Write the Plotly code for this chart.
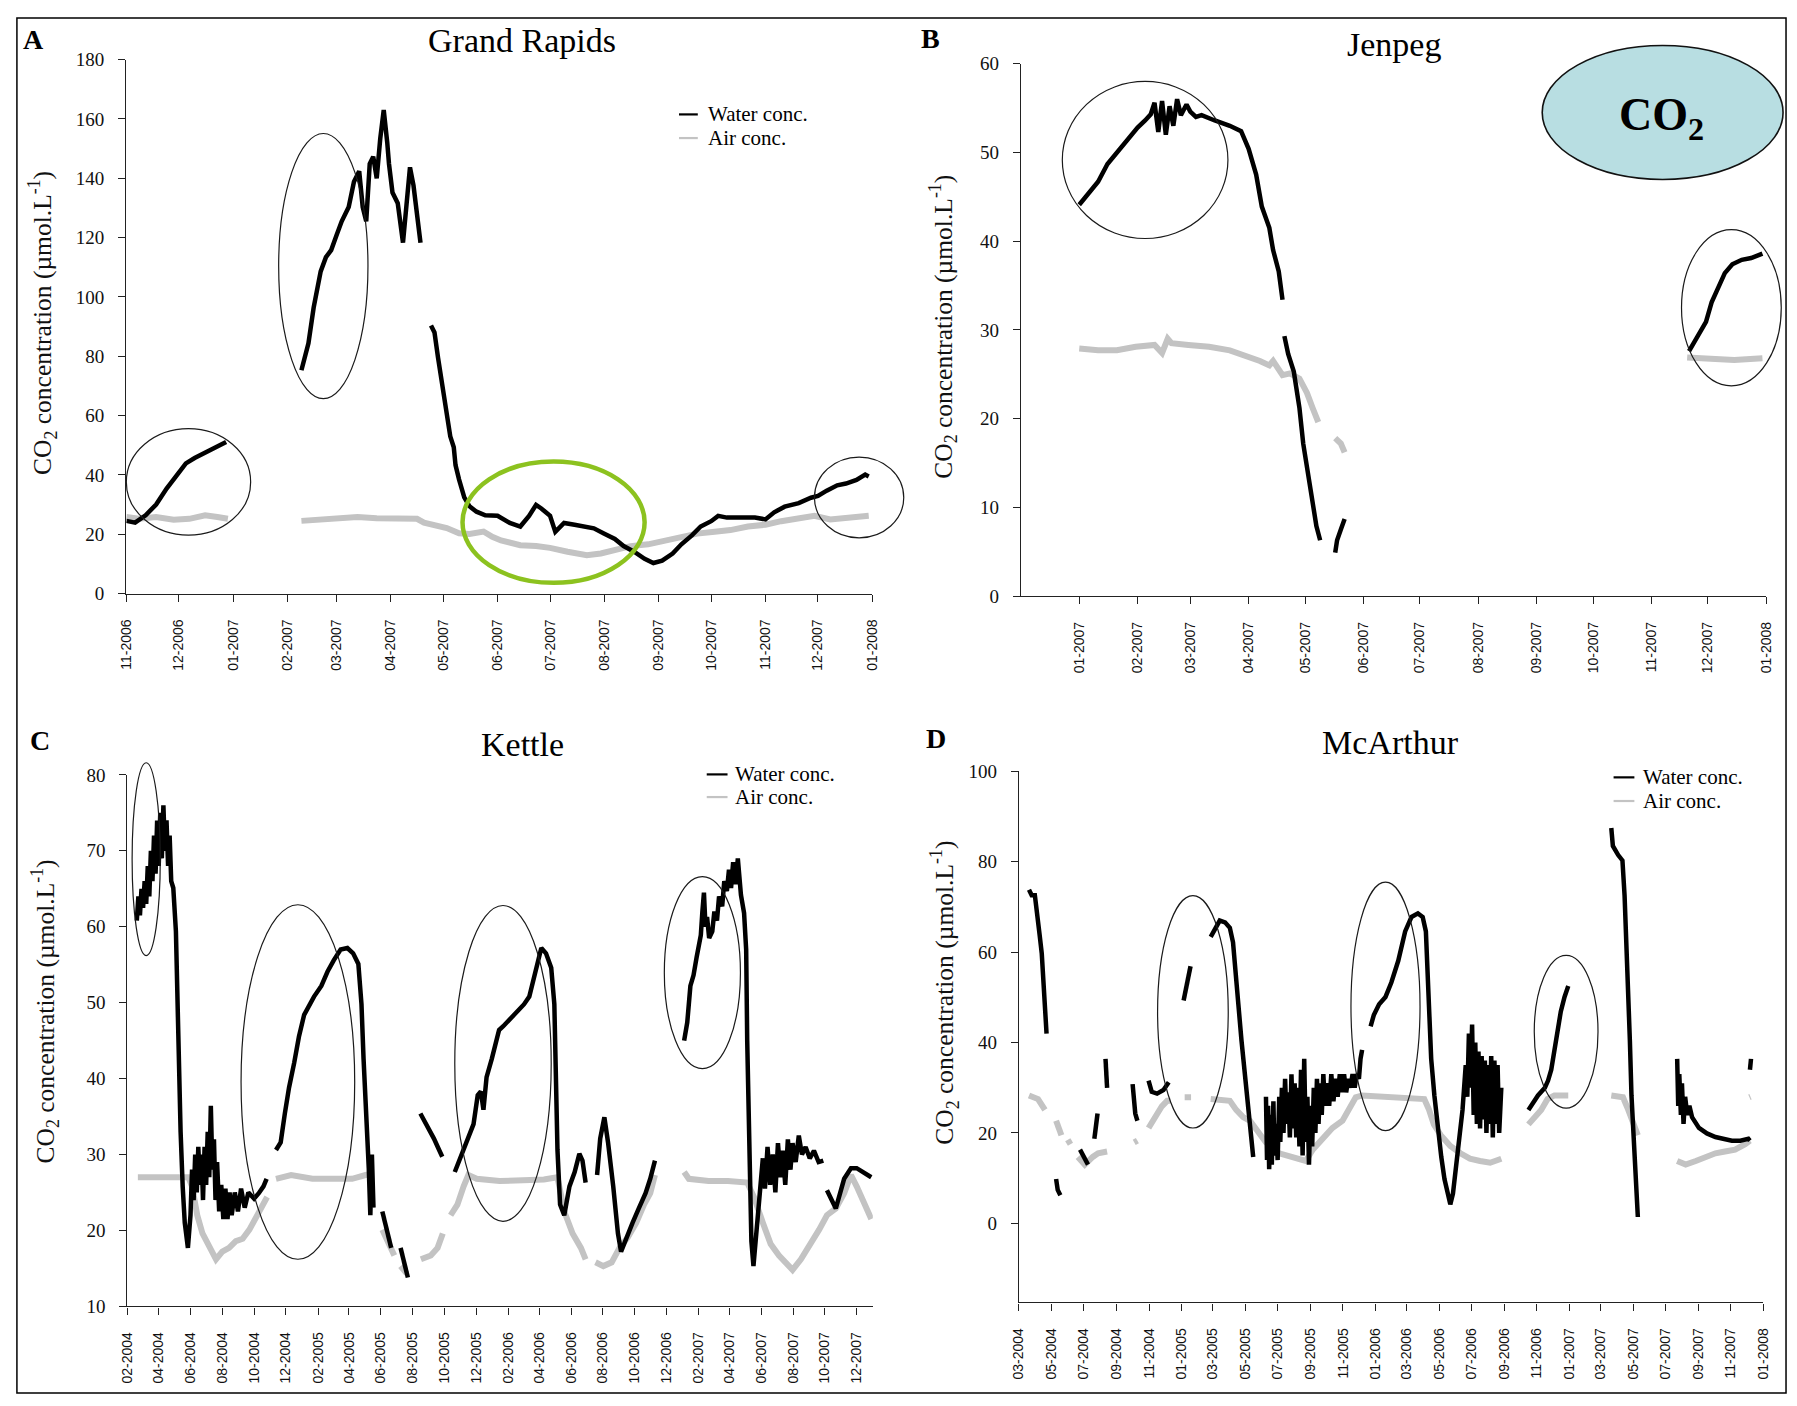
import pandas as pd
import plotly.graph_objects as go

W, H = 1797, 1406
N = None

# ---------------- Grand Rapids (A) ----------------
gr_water_dates = [
    "2006-11-01", "2006-11-06", "2006-11-12", "2006-11-18", "2006-11-24", "2006-11-30", "2006-12-05",
    "2006-12-10", "2006-12-16", "2006-12-21", "2006-12-28", N,
    "2007-02-09", "2007-02-13", "2007-02-16", "2007-02-20", "2007-02-23", "2007-02-26", "2007-03-01",
    "2007-03-04", "2007-03-08", "2007-03-11", "2007-03-14", "2007-03-16", "2007-03-18", "2007-03-20",
    "2007-03-22", "2007-03-24", "2007-03-26", "2007-03-28", "2007-03-30", "2007-03-31", "2007-04-02",
    "2007-04-05", "2007-04-08", "2007-04-10", "2007-04-12", "2007-04-14", "2007-04-16", "2007-04-18", N,
    "2007-04-24", "2007-04-26", "2007-04-28", "2007-04-30", "2007-05-01", "2007-05-03", "2007-05-05",
    "2007-05-07", "2007-05-08", "2007-05-10", "2007-05-13", "2007-05-16", "2007-05-20", "2007-05-25",
    "2007-06-01", "2007-06-08", "2007-06-14", "2007-06-19", "2007-06-23", "2007-06-26", "2007-07-01",
    "2007-07-04", "2007-07-09", "2007-07-15", "2007-07-21", "2007-07-26", "2007-08-01", "2007-08-07",
    "2007-08-12", "2007-08-18", "2007-08-24", "2007-08-29", "2007-09-03", "2007-09-09", "2007-09-14",
    "2007-09-20", "2007-09-25", "2007-10-01", "2007-10-05", "2007-10-10", "2007-10-18", "2007-10-26",
    "2007-11-01", "2007-11-06", "2007-11-12", "2007-11-20", "2007-11-27", "2007-12-01", "2007-12-06",
    "2007-12-12", "2007-12-17", "2007-12-23", "2007-12-28", "2007-12-30",
]
gr_water_vals = [
    24.5, 23.9, 26.4, 30.0, 35.4, 40.3, 43.9, 45.7, 47.5, 49.3, 51.1, N,
    75.3, 84.4, 96.5, 108.6, 113.4, 115.8, 120.7, 125.5, 130.3, 138.8, 142.4, 130.3, 125.5, 144.9,
    147.3, 140.0, 153.3, 163.0, 152.1, 144.9, 135.2, 131.6, 118.3, 132.8, 143.7, 137.6, 129.1, 118.3, N,
    90.4, 88.0, 79.6, 72.3, 66.3, 59.0, 53.0, 49.3, 43.3, 38.5, 32.4, 29.4, 27.6, 26.4,
    26.2, 23.8, 22.6, 26.2, 29.9, 28.7, 26.2, 20.8, 23.8, 23.2, 22.6, 22.0, 20.2, 18.4,
    16.0, 14.1, 11.7, 10.3, 11.1, 13.5, 16.6, 19.6, 22.6, 24.4, 26.2, 25.6, 25.6, 25.6,
    25.0, 27.4, 29.3, 30.5, 32.3, 32.9, 34.7, 36.5, 37.1, 38.3, 40.1, 39.5,
]
gr_air_dates = [
    "2006-11-01", "2006-11-08", "2006-11-18", "2006-11-28", "2006-12-07", "2006-12-16", "2006-12-23",
    "2006-12-29", N,
    "2007-02-09", "2007-02-20", "2007-03-01", "2007-03-13", "2007-03-24", "2007-04-04", "2007-04-16",
    "2007-04-20", "2007-04-25", "2007-05-03", "2007-05-10", "2007-05-16", "2007-05-24", "2007-05-29",
    "2007-06-03", "2007-06-14", "2007-06-23", "2007-07-01", "2007-07-11", "2007-07-22", "2007-07-30",
    "2007-08-07", "2007-08-16", "2007-08-26", "2007-09-05", "2007-09-14", "2007-09-23", "2007-10-03",
    "2007-10-12", "2007-10-22", "2007-11-01", "2007-11-10", "2007-11-20", "2007-11-29", "2007-12-08",
    "2007-12-17", "2007-12-30",
]
gr_air_vals = [
    25.8, 25.2, 25.8, 24.9, 25.2, 26.4, 25.8, 25.2, N,
    24.5, 24.9, 25.4, 25.8, 25.4, 25.4, 25.2, 23.9, 23.3, 22.1, 20.3, 20.1, 20.9, 19.1,
    17.9, 16.3, 16.0, 15.4, 14.1, 12.9, 13.5, 14.8, 16.0, 16.6, 17.8, 19.0, 20.2, 20.8,
    21.4, 22.6, 23.2, 24.4, 25.6, 26.2, 25.0, 25.6, 26.2,
]
gr_ticks = ["11-2006", "12-2006", "01-2007", "02-2007", "03-2007", "04-2007", "05-2007", "06-2007",
            "07-2007", "08-2007", "09-2007", "10-2007", "11-2007", "12-2007", "01-2008"]
gr_ellipses = [("2006-11-01", "2007-01-11", 19.7, 55.6),
               ("2007-01-27", "2007-03-19", 65.7, 155.1),
               ("2007-11-29", "2008-01-19", 18.8, 46.0)]
gr_highlight = ("2007-05-12", "2007-08-24", 3.6, 44.5)

# ---------------- Jenpeg (B) ----------------
jp_water_dates = [
    "2007-01-01", "2007-01-05", "2007-01-11", "2007-01-16", "2007-01-21", "2007-01-27", "2007-02-01",
    "2007-02-05", "2007-02-08", "2007-02-10", "2007-02-12", "2007-02-14", "2007-02-16", "2007-02-18",
    "2007-02-20", "2007-02-22", "2007-02-24", "2007-02-27", "2007-03-01", "2007-03-04",
    "2007-03-07", "2007-03-14", "2007-03-22", "2007-03-28", "2007-04-01", "2007-04-05", "2007-04-08",
    "2007-04-12", "2007-04-14", "2007-04-17", "2007-04-19", N,
    "2007-04-20", "2007-04-22", "2007-04-25", "2007-04-28", "2007-04-30", "2007-05-03", "2007-05-05",
    "2007-05-07", "2007-05-09", N,
    "2007-05-17", "2007-05-18", "2007-05-20", "2007-05-22", N,
    "2007-11-21", "2007-11-23", "2007-11-26", "2007-11-30", "2007-12-03", "2007-12-07", "2007-12-10",
    "2007-12-14", "2007-12-19", "2007-12-24", "2007-12-30",
]
jp_water_vals = [
    44.1, 45.1, 46.7, 48.7, 50.0, 51.6, 52.8, 53.6, 54.3, 55.6, 52.3, 55.8, 52.0, 55.2,
    53.0, 56.0, 54.2, 55.4, 54.6, 54.0,
    54.2, 53.6, 53.0, 52.4, 50.4, 47.5, 43.9, 41.5, 39.0, 36.6, 33.4, N,
    29.3, 27.3, 25.3, 21.2, 17.2, 13.1, 9.9, 7.9, 6.3, N,
    4.9, 6.3, 7.5, 8.7, N,
    27.6, 28.3, 29.4, 30.9, 33.1, 35.0, 36.4, 37.4, 37.9, 38.1, 38.6,
]
jp_air_dates = [
    "2007-01-01", "2007-01-11", "2007-01-21", "2007-01-31", "2007-02-10", "2007-02-14", "2007-02-17",
    "2007-02-19", "2007-02-28", "2007-03-11", "2007-03-22", "2007-03-31", "2007-04-07", "2007-04-12",
    "2007-04-14", "2007-04-19", "2007-04-23", "2007-04-28", "2007-05-02", "2007-05-05", "2007-05-08", N,
    "2007-05-17", "2007-05-20", "2007-05-22", N,
    "2007-11-20", "2007-12-01", "2007-12-15", "2007-12-30",
]
jp_air_vals = [
    27.9, 27.7, 27.7, 28.1, 28.3, 27.4, 29.0, 28.5, 28.3, 28.1, 27.7, 27.1, 26.5, 26.0,
    26.5, 24.9, 25.1, 24.5, 22.9, 21.2, 19.6, N,
    17.8, 17.2, 16.2, N,
    26.9, 26.7, 26.6, 26.8,
]
jp_ticks = ["01-2007", "02-2007", "03-2007", "04-2007", "05-2007", "06-2007", "07-2007",
            "08-2007", "09-2007", "10-2007", "11-2007", "12-2007", "01-2008"]
jp_ellipses = [("2006-12-23", "2007-03-21", 40.3, 58.0),
               ("2007-11-17", "2008-01-09", 23.7, 41.3)]

# ---------------- Kettle (C) ----------------
kt_water_dates = [
    "2004-02-19", "2004-02-22", "2004-02-25", "2004-02-28", "2004-03-02", "2004-03-05", "2004-03-08",
    "2004-03-11", "2004-03-14", "2004-03-17", "2004-03-20", "2004-03-23", "2004-03-26", "2004-03-29",
    "2004-04-01", "2004-04-04", "2004-04-07", "2004-04-10", "2004-04-13", "2004-04-16", "2004-04-19",
    "2004-04-22", "2004-04-25", "2004-04-29", "2004-05-04", "2004-05-07", "2004-05-10",
    "2004-05-13", "2004-05-17", "2004-05-21", "2004-05-27", "2004-06-01", "2004-06-04", "2004-06-07",
    "2004-06-10", "2004-06-13", "2004-06-16", "2004-06-19", "2004-06-22", "2004-06-25", "2004-06-28",
    "2004-07-01", "2004-07-04", "2004-07-07", "2004-07-10", "2004-07-13", "2004-07-16", "2004-07-19",
    "2004-07-22", "2004-07-26", "2004-07-30", "2004-08-03", "2004-08-07", "2004-08-11", "2004-08-15",
    "2004-08-19", "2004-08-25", "2004-08-31", "2004-09-06", "2004-09-13", "2004-09-20", "2004-10-01",
    "2004-10-10", "2004-10-19", "2004-10-25", N,
    "2004-11-12", "2004-11-21", "2004-11-29", "2004-12-07", "2004-12-17", "2004-12-26", "2005-01-05",
    "2005-01-15", "2005-01-24", "2005-02-07", "2005-02-19", "2005-03-03", "2005-03-16", "2005-03-29",
    "2005-04-09", "2005-04-19", "2005-04-25", "2005-04-29", "2005-05-05", "2005-05-09", "2005-05-12",
    "2005-05-15", "2005-05-18", N,
    "2005-06-04", "2005-06-13", "2005-06-21", N,
    "2005-07-09", "2005-07-19", "2005-07-23", N,
    "2005-08-16", "2005-08-23", "2005-09-02", "2005-09-11", "2005-09-21", "2005-09-27", N,
    "2005-10-21", "2005-11-01", "2005-11-13", "2005-11-26", "2005-12-04", "2005-12-10", "2005-12-15",
    "2005-12-21", "2005-12-31", "2006-01-14", "2006-01-22", "2006-02-04", "2006-02-17", "2006-03-03",
    "2006-03-13", "2006-03-26", "2006-04-05", "2006-04-14", "2006-04-24", "2006-04-30", "2006-05-03",
    "2006-05-06", "2006-05-11", "2006-05-19", "2006-05-29", "2006-06-08", "2006-06-17", "2006-06-23",
    "2006-06-29", N,
    "2006-07-21", "2006-07-27", "2006-08-04", "2006-08-11", "2006-08-21", "2006-08-30", "2006-09-05",
    "2006-09-15", "2006-09-27", "2006-10-09", "2006-10-22", "2006-10-31", "2006-11-09", N,
    "2007-01-04", "2007-01-10", "2007-01-16", "2007-01-22", "2007-01-28", "2007-02-05", "2007-02-08",
    "2007-02-11", "2007-02-14", "2007-02-17", "2007-02-21", "2007-02-27", "2007-03-03", "2007-03-08",
    "2007-03-12", "2007-03-18", "2007-03-22", "2007-03-27", "2007-03-31", "2007-04-04", "2007-04-08",
    "2007-04-13", "2007-04-17", "2007-04-23", "2007-04-29", "2007-05-03", "2007-05-05", "2007-05-09",
    "2007-05-13", "2007-05-17", "2007-05-25", "2007-05-30", "2007-06-04", "2007-06-08", "2007-06-13",
    "2007-06-18", "2007-06-23", "2007-06-28", "2007-07-03", "2007-07-08", "2007-07-12", "2007-07-17",
    "2007-07-22", "2007-07-27", "2007-07-31", "2007-08-06", "2007-08-12", "2007-08-18", "2007-08-25",
    "2007-09-02", "2007-09-10", "2007-09-19", "2007-09-28", N,
    "2007-10-05", "2007-10-22", "2007-11-07", "2007-11-20", "2007-12-01", "2007-12-14", "2007-12-29",
]
kt_water_vals = [
    60.8, 64.0, 61.5, 65.0, 62.5, 66.0, 63.0, 68.0, 64.0, 70.0, 66.0, 72.0, 67.0, 74.0,
    68.0, 75.0, 69.0, 76.0, 70.0, 74.0, 68.0, 72.0, 66.0, 65.1, 59.4, 49.8, 40.2,
    33.0, 25.8, 21.0, 17.7, 22.0, 28.0, 24.0, 30.0, 25.0, 31.0, 26.0, 30.0, 24.0, 31.0,
    26.0, 33.0, 27.0, 36.4, 28.0, 32.0, 24.0, 29.0, 22.5, 26.0, 21.5, 25.5, 21.5, 25.0,
    22.0, 25.0, 22.5, 25.5, 23.0, 25.0, 24.2,
    24.9, 25.8, 26.8, N,
    30.6, 31.6, 35.4, 38.8, 42.1, 45.5, 48.4, 49.8, 50.8, 52.2, 54.1, 55.6, 57.0, 57.2,
    56.5, 55.1, 49.8, 42.6, 35.4, 28.2, 22.0, 30.0, 23.0, N,
    22.5, 19.6, 17.7, N,
    17.7, 15.3, 13.8, N,
    35.4, 34.5, 33.5, 32.1, 30.6, 29.7, N,
    27.7, 29.7, 31.6, 34.0, 37.8, 38.3, 35.9, 40.2, 42.6, 46.4, 46.9, 47.9, 48.8, 49.8,
    50.8, 54.6, 57.2, 56.5, 54.6, 49.8, 40.2, 30.6, 23.4, 22.0, 25.8, 27.7, 30.1, 29.2,
    26.3, N,
    27.3, 32.1, 34.9, 31.6, 25.8, 19.6, 17.2, 19.1, 21.0, 22.9, 24.9, 26.8, 29.2, N,
    45.0, 47.4, 52.2, 53.6, 56.0, 58.9, 62.0, 64.5, 60.0, 61.3, 58.5, 59.4, 62.0, 60.8,
    64.0, 62.7, 66.0, 64.7, 67.5, 65.1, 68.5, 65.6, 69.0, 64.2, 61.8, 57.0, 45.0, 30.6,
    18.6, 15.3, 21.0, 26.0, 29.5, 25.5, 31.0, 26.0, 30.0, 25.0, 31.5, 27.0, 30.5, 26.0,
    32.0, 28.0, 31.5, 29.0, 32.5, 30.0, 31.0,
    29.5, 30.5, 29.0, 29.2, N,
    25.3, 22.9, 26.8, 28.2, 28.2, 27.7, 27.0,
]
kt_air_dates = [
    "2004-02-21", "2004-05-28", "2004-06-04", "2004-06-14", "2004-06-24", "2004-07-07", "2004-07-20",
    "2004-08-01", "2004-08-14", "2004-08-27", "2004-09-09", "2004-09-22", "2004-10-04", "2004-10-17",
    "2004-10-26", N,
    "2004-11-12", "2004-12-11", "2005-01-21", "2005-03-01", "2005-04-07", "2005-05-03", "2005-05-18", N,
    "2005-06-04", "2005-06-17", "2005-06-27", N,
    "2005-07-09", "2005-07-21", N,
    "2005-08-17", "2005-09-05", "2005-09-18", "2005-09-28", N,
    "2005-10-13", "2005-10-26", "2005-11-07", "2005-11-16", "2005-12-02", "2006-01-15", "2006-03-01",
    "2006-04-10", "2006-05-06", "2006-05-19", "2006-06-04", "2006-06-20", "2006-06-29", N,
    "2006-07-18", "2006-08-02", "2006-08-18", "2006-09-02", "2006-09-18", "2006-10-04", "2006-10-19",
    "2006-10-31", "2006-11-09", N,
    "2007-01-04", "2007-01-13", "2007-02-20", "2007-03-29", "2007-05-05", "2007-05-18", "2007-06-04",
    "2007-06-19", "2007-07-05", "2007-07-22", "2007-07-31", "2007-08-16", "2007-09-04", "2007-09-20",
    "2007-10-05", "2007-10-22", "2007-11-07", "2007-11-20", "2007-12-01", "2007-12-17", "2007-12-29",
]
kt_air_vals = [
    27.0, 27.0, 25.8, 22.0, 19.6, 17.7, 16.2, 17.2, 17.7, 18.6, 18.9, 20.1, 21.5, 23.4, 24.4, N,
    26.8, 27.3, 26.8, 26.8, 26.8, 27.3, 27.5, N,
    20.1, 18.2, 16.7, N,
    15.3, 14.3, N,
    16.2, 16.7, 17.7, 19.6, N,
    22.0, 23.4, 25.8, 27.3, 26.8, 26.5, 26.6, 26.7, 27.0, 22.5, 19.6, 17.7, 16.2, N,
    15.8, 15.3, 15.8, 17.7, 19.1, 21.0, 23.4, 24.9, 27.3, N,
    27.7, 26.8, 26.5, 26.5, 26.3, 24.4, 21.0, 18.2, 16.7, 15.3, 14.8, 16.2, 18.2, 20.1,
    22.0, 22.9, 24.9, 27.3, 25.8, 23.4, 21.5,
]
kt_ticks = ["02-2004", "04-2004", "06-2004", "08-2004", "10-2004", "12-2004", "02-2005", "04-2005",
            "06-2005", "08-2005", "10-2005", "12-2005", "02-2006", "04-2006", "06-2006", "08-2006",
            "10-2006", "12-2006", "02-2007", "04-2007", "06-2007", "08-2007", "10-2007", "12-2007"]
kt_ellipses = [("2004-02-10", "2004-04-04", 56.2, 81.6),
               ("2004-09-06", "2005-04-12", 16.2, 62.9),
               ("2005-10-21", "2006-04-24", 21.2, 62.8),
               ("2006-11-27", "2007-04-22", 41.3, 66.6)]

# ---------------- McArthur (D) ----------------
mc_water_dates = [
    "2004-03-20", "2004-03-25", "2004-03-31", "2004-04-05", "2004-04-09", "2004-04-13", "2004-04-16",
    "2004-04-19", "2004-04-22", N,
    "2004-05-10", "2004-05-13", "2004-05-18", N,
    "2004-06-24", "2004-07-01", "2004-07-09", N,
    "2004-07-21", "2004-07-27", N,
    "2004-08-11", "2004-08-14", N,
    "2004-10-01", "2004-10-06", "2004-10-10", N,
    "2004-10-31", "2004-11-06", "2004-11-16", "2004-11-28", "2004-12-08", N,
    "2005-01-05", "2005-01-12", "2005-01-18", N,
    "2005-02-25", "2005-03-05", "2005-03-14", "2005-03-24", "2005-04-02", "2005-04-08", "2005-04-13",
    "2005-04-18", "2005-04-24", "2005-05-01", "2005-05-07", "2005-05-13", "2005-05-16", N,
    "2005-06-09", "2005-06-11", "2005-06-13", "2005-06-15", "2005-06-18", "2005-06-20", "2005-06-23",
    "2005-06-25", "2005-06-28", "2005-07-01", "2005-07-04", "2005-07-06", "2005-07-09", "2005-07-12",
    "2005-07-15", "2005-07-18", "2005-07-21", "2005-07-24", "2005-07-27", "2005-07-30", "2005-08-02",
    "2005-08-05", "2005-08-08", "2005-08-11", "2005-08-14", "2005-08-17", "2005-08-20", "2005-08-23",
    "2005-08-26", "2005-08-29", "2005-09-01", "2005-09-04", "2005-09-07", "2005-09-10", "2005-09-13",
    "2005-09-16", "2005-09-19", "2005-09-22", "2005-09-25", "2005-09-28", "2005-10-02", "2005-10-06",
    "2005-10-10", "2005-10-14", "2005-10-18", "2005-10-22", "2005-10-26", "2005-10-30", "2005-11-03",
    "2005-11-07", "2005-11-11", "2005-11-15", "2005-11-19", "2005-11-23", "2005-11-27", "2005-12-01",
    "2005-12-04", "2005-12-07", N,
    "2005-12-23", "2005-12-29", "2006-01-08", "2006-01-20", "2006-01-31", "2006-02-13", "2006-02-26",
    "2006-03-10", "2006-03-22", "2006-03-31", "2006-04-06", "2006-04-12", "2006-04-16", "2006-04-22",
    "2006-04-29", "2006-05-05", "2006-05-11", "2006-05-17", "2006-05-22", "2006-05-27", "2006-06-02",
    "2006-06-08", "2006-06-14", "2006-06-20", "2006-06-23", "2006-06-26", "2006-06-29", "2006-07-02",
    "2006-07-05", "2006-07-08", "2006-07-11", "2006-07-14", "2006-07-17", "2006-07-20", "2006-07-23",
    "2006-07-26", "2006-07-29", "2006-08-01", "2006-08-04", "2006-08-07", "2006-08-10", "2006-08-13",
    "2006-08-16", "2006-08-19", "2006-08-22", "2006-08-26", N,
    "2006-10-16", "2006-10-24", "2006-11-03", "2006-11-16", "2006-11-22", "2006-11-28", "2006-12-04",
    "2006-12-10", "2006-12-16", "2006-12-23", "2006-12-30", N,
    "2007-03-21", "2007-03-24", "2007-04-03", "2007-04-11", "2007-04-15", "2007-04-18", "2007-04-22",
    "2007-04-25", "2007-04-28", "2007-05-01", "2007-05-05", "2007-05-08", "2007-05-10", N,
    "2007-07-23", "2007-07-25", "2007-07-27", "2007-07-30", "2007-08-01", "2007-08-04", "2007-08-07",
    "2007-08-11", "2007-08-15", "2007-08-20", "2007-09-02", "2007-09-17",
    "2007-10-03", "2007-10-18", "2007-11-03", "2007-11-19", "2007-12-04", "2007-12-07", N,
    "2007-12-07", "2007-12-09",
]
mc_water_vals = [
    73.8, 72.6, 72.6, 68.6, 63.8, 59.7, 53.3, 46.9, 42.0, N,
    9.8, 7.4, 6.2, N,
    16.3, 14.7, 13.0, N,
    18.7, 24.3, N,
    36.4, 30.0, N,
    30.8, 24.3, 22.7, N,
    31.6, 29.1, 28.7, 29.5, 31.2, N,
    49.3, 53.3, 56.9, N,
    63.4, 65.0, 67.0, 66.6, 65.4, 62.2, 56.5, 48.5, 40.4, 32.4, 24.3, 17.9, 14.7, N,
    28.0, 14.0, 26.0, 12.0, 24.0, 13.0, 27.0, 15.0, 22.0, 14.0, 28.0, 18.0, 30.0, 20.0,
    32.0, 22.0, 29.0, 19.0, 33.0, 21.0, 31.0, 19.0, 30.0, 17.0, 34.0, 15.0, 36.4, 18.0,
    28.0, 13.0, 26.0, 17.0, 30.0, 20.0, 32.0, 22.0, 31.0, 24.0, 33.0, 26.0, 31.0, 26.0,
    33.0, 27.0, 32.0, 28.0, 33.0, 29.0, 33.0, 29.0, 32.0, 30.0, 33.0, 30.0, 33.0, 32.0,
    36.4, 38.4, N,
    43.6, 46.1, 48.5, 50.1, 53.3, 58.1, 64.6, 67.8, 68.6, 67.8, 64.6, 48.5, 36.4, 28.3,
    20.3, 14.7, 9.8, 6.6, 4.2, 6.6, 12.2, 18.7, 25.1, 35.0, 28.0, 42.0, 30.0, 44.0,
    24.0, 40.0, 22.0, 38.0, 21.0, 37.0, 23.0, 36.0, 20.0, 35.0, 22.0, 37.0, 19.0, 36.0,
    22.0, 35.0, 20.0, 30.0, N,
    25.1, 26.7, 28.3, 30.0, 31.6, 34.0, 38.0, 42.0, 46.9, 50.1, 52.5, N,
    87.5, 83.5, 81.5, 80.3, 72.6, 64.6, 52.5, 40.4, 28.3, 20.3, 12.2, 4.2, 1.4, N,
    36.4, 26.0, 33.0, 24.0, 31.0, 22.0, 28.0, 24.0, 26.0, 23.5, 21.1, 19.9,
    19.1, 18.7, 18.3, 18.3, 18.7, 18.3, N,
    34.0, 36.4,
]
mc_air_dates = [
    "2004-03-20", "2004-04-06", "2004-04-19", N,
    "2004-05-10", "2004-05-20", N,
    "2004-06-01", "2004-06-06", N,
    "2004-06-20", "2004-07-03", "2004-07-18", "2004-07-28", "2004-08-14", N,
    "2004-10-04", "2004-10-10", N,
    "2004-10-31", "2004-11-13", "2004-11-25", "2004-12-05", "2004-12-11", N,
    "2005-01-07", "2005-01-19", N,
    "2005-02-25", "2005-04-02", "2005-04-14", "2005-04-27", "2005-05-10", "2005-06-09", "2005-07-04",
    "2005-07-29", "2005-08-23", "2005-09-05", "2005-09-23", "2005-10-12", "2005-10-31", "2005-11-12",
    "2005-11-25", "2005-12-07", "2006-01-20", "2006-04-03", "2006-04-12", "2006-04-21", "2006-05-04",
    "2006-05-22", "2006-06-10", "2006-06-28", "2006-07-17", "2006-08-05", "2006-08-26", N,
    "2006-10-16", "2006-10-27", "2006-11-09", "2006-11-21", "2006-12-04", "2006-12-30", N,
    "2007-03-21", "2007-04-12", "2007-04-22", "2007-05-01", "2007-05-10", N,
    "2007-07-23", "2007-08-08", "2007-08-27", "2007-09-14", "2007-10-03", "2007-10-21", "2007-11-09",
    "2007-11-28", "2007-12-07", N,
    "2007-12-06", "2007-12-08",
]
mc_air_vals = [
    28.3, 27.5, 25.1, N,
    22.7, 19.5, N,
    18.5, 17.5, N,
    14.7, 13.0, 14.7, 15.5, 15.9, N,
    17.9, 18.3, N,
    21.1, 23.5, 25.9, 27.1, 27.1, N,
    27.9, 27.9, N,
    27.5, 27.1, 25.1, 23.5, 22.7, 17.9, 15.5, 14.7, 13.8, 16.3, 18.7, 21.1, 22.7, 25.1,
    27.9, 28.3, 27.9, 27.5, 25.1, 21.9, 19.5, 17.1, 15.5, 14.3, 13.8, 13.4, 14.3, N,
    21.9, 23.5, 25.1, 27.5, 28.3, 28.3, N,
    28.3, 27.9, 25.1, 21.9, 19.5, N,
    13.8, 13.0, 13.8, 14.7, 15.5, 15.9, 16.3, 17.5, 18.3, N,
    27.9, 28.0,
]
mc_ticks = ["03-2004", "05-2004", "07-2004", "09-2004", "11-2004", "01-2005", "03-2005", "05-2005",
            "07-2005", "09-2005", "11-2005", "01-2006", "03-2006", "05-2006", "07-2006", "09-2006",
            "11-2006", "01-2007", "03-2007", "05-2007", "07-2007", "09-2007", "11-2007", "01-2008"]
mc_ellipses = [("2004-11-17", "2005-03-30", 21.1, 72.5),
               ("2005-11-16", "2006-03-26", 20.5, 75.5),
               ("2006-10-27", "2007-02-24", 25.5, 59.3)]

# ---------------- panel layout (pixel boxes of the plotting areas) ----------------
panels = {
    "A": dict(ax="", box=(119.4, 50.4, 872.0, 592.4), xr=("2006-11-01", "2008-01-01"), yr=(0, 180),
              yt=list(range(0, 181, 20)), ticks=gr_ticks, title="Grand Rapids"),
    "B": dict(ax="2", box=(1022.0, 54.5, 1774.0, 595.0), xr=("2006-12-01", "2008-01-01"), yr=(0, 60),
              yt=list(range(0, 61, 10)), ticks=jp_ticks, title="Jenpeg"),
    "C": dict(ax="3", box=(120.5, 776.5, 872.6, 1316.0), xr=("2004-02-01", "2008-01-01"), yr=(10, 80),
              yt=list(range(10, 81, 10)), ticks=kt_ticks, title="Kettle"),
    "D": dict(ax="4", box=(1020.0, 773.0, 1771.0, 1312.0), xr=("2004-03-01", "2008-01-01"), yr=(-17.5, 100),
              yt=list(range(0, 101, 20)), ticks=mc_ticks, title="McArthur"),
}

SERIF = "Liberation Serif, Times New Roman, serif"
WATER = "#000000"
AIR = "#c3c3c3"


def month_date(label):
    mm, yyyy = label.split("-")
    return f"{yyyy}-{mm}-01"


def to_paper(p, date, value):
    x0, y0, x1, y1 = p["box"]
    t0, t1 = pd.Timestamp(p["xr"][0]), pd.Timestamp(p["xr"][1])
    fx = (pd.Timestamp(date) - t0) / (t1 - t0)
    fy = (value - p["yr"][0]) / (p["yr"][1] - p["yr"][0])
    px = x0 + fx * (x1 - x0)
    py = y1 - fy * (y1 - y0)
    return px / W, 1 - py / H


fig = go.Figure()

series = {
    "A": (gr_water_dates, gr_water_vals, gr_air_dates, gr_air_vals),
    "B": (jp_water_dates, jp_water_vals, jp_air_dates, jp_air_vals),
    "C": (kt_water_dates, kt_water_vals, kt_air_dates, kt_air_vals),
    "D": (mc_water_dates, mc_water_vals, mc_air_dates, mc_air_vals),
}

for key, (wd, wv, ad, av) in series.items():
    ax = panels[key]["ax"]
    fig.add_trace(go.Scatter(x=ad, y=av, mode="lines", name="Air conc.", showlegend=False,
                             line=dict(color=AIR, width=6), xaxis="x" + ax, yaxis="y" + ax))
    fig.add_trace(go.Scatter(x=wd, y=wv, mode="lines", name="Water conc.", showlegend=False,
                             line=dict(color=WATER, width=4.5), xaxis="x" + ax, yaxis="y" + ax))

layout = dict(width=W, height=H, margin=dict(l=0, r=0, t=0, b=0), autosize=False,
              paper_bgcolor="white", plot_bgcolor="white", showlegend=False)

for key, p in panels.items():
    ax = p["ax"]
    x0, y0, x1, y1 = p["box"]
    layout["xaxis" + ax] = dict(
        domain=[x0 / W, x1 / W], anchor="y" + ax, type="date",
        range=list(p["xr"]), tickvals=[month_date(t) for t in p["ticks"]], ticktext=p["ticks"],
        tickangle=-90, ticks="outside", ticklen=7, tickwidth=1.2, tickcolor="#222",
        showline=True, linecolor="#222", linewidth=1.4, showgrid=False, zeroline=False,
        tickfont=dict(family="Liberation Sans, Arial, sans-serif", size=14, color="#111"),
        ticklabelstandoff=12,
    )
    layout["yaxis" + ax] = dict(
        domain=[1 - y1 / H, 1 - y0 / H], anchor="x" + ax, range=list(p["yr"]),
        tickvals=p["yt"], ticks="outside", ticklen=7, tickwidth=1.2, tickcolor="#222",
        showline=True, linecolor="#222", linewidth=1.4, showgrid=False, zeroline=False,
        tickfont=dict(family=SERIF, size=19, color="#111"), ticklabelstandoff=10,
    )

shapes = []
annotations = []

# outer frame
shapes.append(dict(type="rect", xref="paper", yref="paper", x0=9 / W, x1=1794 / W,
                   y0=1 - 1404 / H, y1=1 - 8 / H, line=dict(color="#000", width=1.5)))

# ellipses marking rising phases
for key, ells in (("A", gr_ellipses), ("B", jp_ellipses), ("C", kt_ellipses), ("D", mc_ellipses)):
    p = panels[key]
    for d0, d1, v0, v1 in ells:
        ex0, ey0 = to_paper(p, d0, v0)
        ex1, ey1 = to_paper(p, d1, v1)
        shapes.append(dict(type="circle", xref="paper", yref="paper", x0=ex0, x1=ex1, y0=ey0, y1=ey1,
                           line=dict(color="#1a1a1a", width=1.2), layer="above"))

hx0, hy0 = to_paper(panels["A"], gr_highlight[0], gr_highlight[2])
hx1, hy1 = to_paper(panels["A"], gr_highlight[1], gr_highlight[3])
shapes.append(dict(type="circle", xref="paper", yref="paper", x0=hx0, x1=hx1, y0=hy0, y1=hy1,
                   line=dict(color="#8cc21f", width=4.5), layer="above"))

# CO2 badge
shapes.append(dict(type="circle", xref="paper", yref="paper", x0=1548 / W, x1=1791 / W,
                   y0=1 - 172 / H, y1=1 - 36 / H, fillcolor="#b8dee2", line=dict(color="#111", width=1.6)))
annotations.append(dict(xref="paper", yref="paper", x=1668 / W, y=1 - 110 / H, showarrow=False,
                        text="<b>CO<sub>2</sub></b>", font=dict(family=SERIF, size=46, color="#000"),
                        xanchor="center", yanchor="middle"))

# panel letters, titles and y-axis titles
letters = {"A": (26, 30), "B": (931, 29), "C": (32, 742), "D": (936, 740)}
titles = {"A": (519, 31), "B": (1398, 35), "C": (519, 746), "D": (1395, 744)}
ytitles = {"A": (35, 318), "B": (944, 322), "C": (37, 1017), "D": (945, 998)}
for key, p in panels.items():
    lx, ly = letters[key]
    annotations.append(dict(xref="paper", yref="paper", x=lx / W, y=1 - ly / H, text=f"<b>{key}</b>",
                            showarrow=False, xanchor="center", yanchor="middle",
                            font=dict(family=SERIF, size=28, color="#000")))
    tx, ty = titles[key]
    annotations.append(dict(xref="paper", yref="paper", x=tx / W, y=1 - ty / H, text=p["title"],
                            showarrow=False, xanchor="center", yanchor="middle",
                            font=dict(family=SERIF, size=34, color="#000")))
    ax_, ay_ = ytitles[key]
    annotations.append(dict(xref="paper", yref="paper", x=ax_ / W, y=1 - ay_ / H,
                            text="CO<sub>2</sub> concentration (\u00b5mol.L<sup>-1</sup>)",
                            textangle=-90, showarrow=False, xanchor="center", yanchor="middle",
                            font=dict(family=SERIF, size=25.5, color="#111")))

# per-panel legends: (line start x, line end x, text x, water row y, air row y)
legends = {"A": (677, 696, 704, 106, 130), "C": (705, 726, 732, 776, 799), "D": (1620, 1641, 1648, 779, 803)}
for key, (lx0, lx1, tx, wy, ay) in legends.items():
    for yy, col, label in ((wy, WATER, "Water conc."), (ay, AIR, "Air conc.")):
        shapes.append(dict(type="line", xref="paper", yref="paper", x0=lx0 / W, x1=lx1 / W,
                           y0=1 - yy / H, y1=1 - yy / H, line=dict(color=col, width=2.2)))
        annotations.append(dict(xref="paper", yref="paper", x=tx / W, y=1 - yy / H, text=label,
                                showarrow=False, xanchor="left", yanchor="middle",
                                font=dict(family=SERIF, size=21, color="#000")))

layout["shapes"] = shapes
layout["annotations"] = annotations
fig.update_layout(**layout)

fig.write_html("out.html")
